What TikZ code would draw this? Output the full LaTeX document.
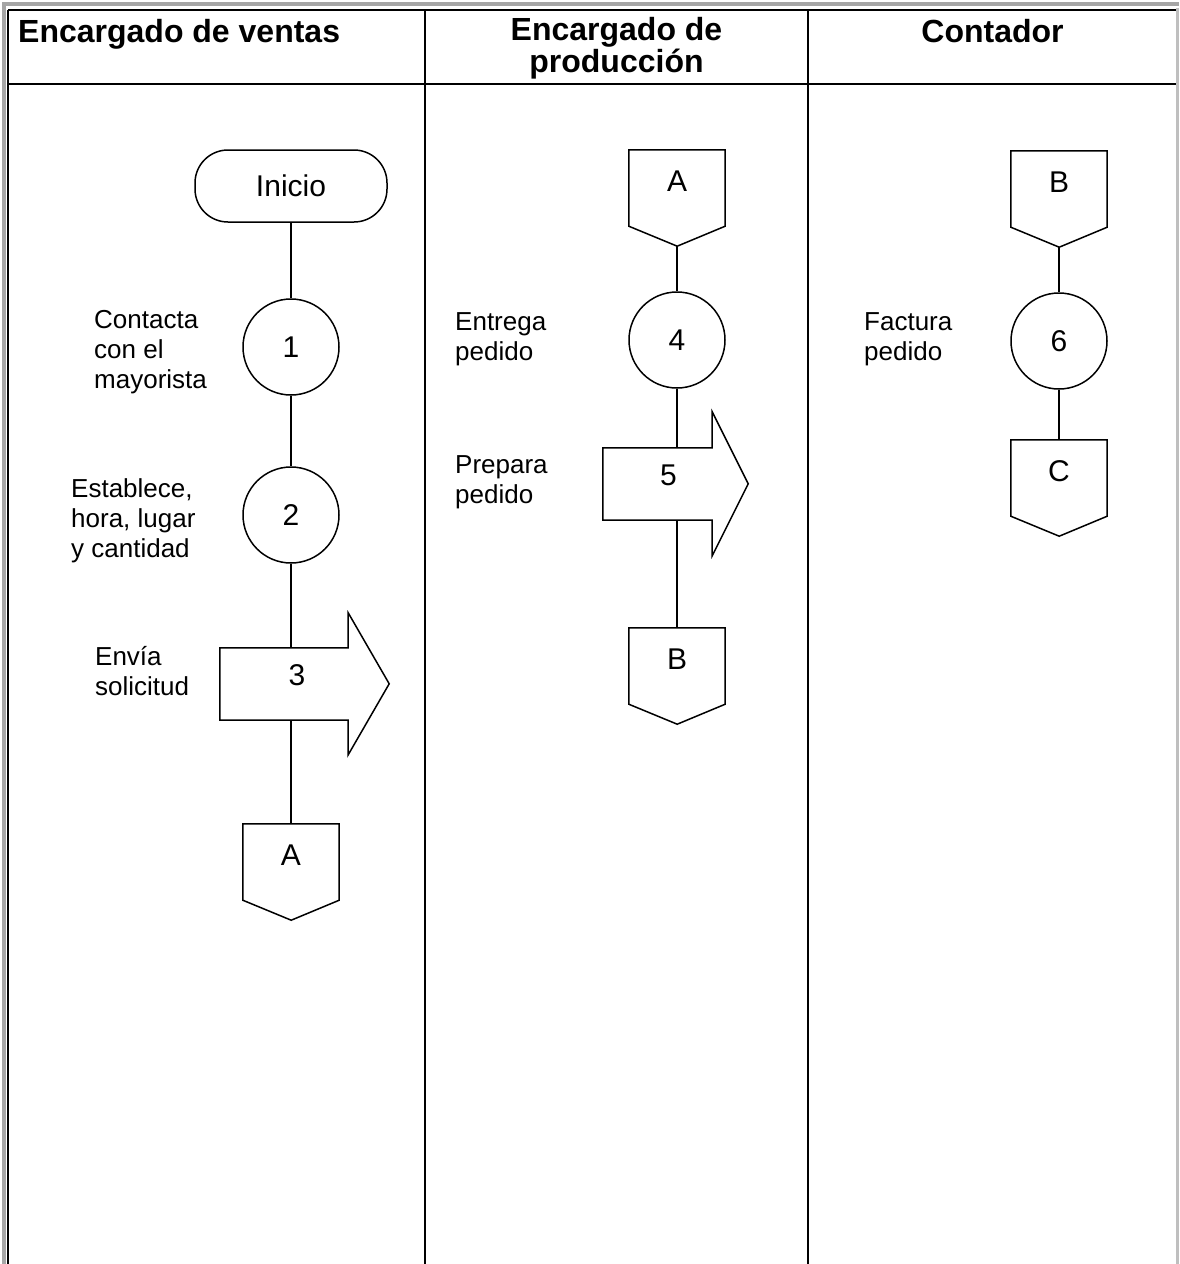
\documentclass[tikz,border=0pt]{standalone}
\usepackage{fontspec}
\setmainfont{Liberation Sans}
\usepackage{tikz}

\begin{document}
\begin{tikzpicture}[x=1pt,y=-1pt]
\tikzstyle{every node}=[inner sep=0pt]
\tikzstyle{linea}=[line width=1.5pt]
\tikzstyle{borde}=[line width=2.6pt]
\tikzstyle{titulo}=[font=\fontsize{32}{30}\selectfont\bfseries,anchor=base]
\tikzstyle{nota}=[font=\fontsize{26}{30}\selectfont,align=left,anchor=base west]
\tikzstyle{inicio}=[draw,linea,rectangle,rounded corners=33pt,minimum width=192pt,minimum height=72pt,font=\fontsize{30}{36}\selectfont]
\tikzstyle{paso}=[draw,linea,circle,minimum size=96pt,font=\fontsize{30}{36}\selectfont]
\tikzstyle{conector}=[rectangle,minimum width=96pt,minimum height=76pt,text depth=14pt,font=\fontsize{30}{36}\selectfont]
\tikzstyle{cuerpo}=[rectangle,minimum height=72pt]
\tikzstyle{num}=[font=\fontsize{30}{36}\selectfont]
\useasboundingbox (0,0) rectangle (1179,1264);

\fill[gray!70] (2,2) rectangle (1179,6);
\fill[gray!70] (2,2) rectangle (6,1264);
\fill[gray!50] (1176,8) rectangle (1179,1264);
\draw[borde] (8,10) -- (1176,10);
\draw[borde] (8,10) -- (8,1264);
\draw[borde] (8,84) -- (1176,84);
\draw[borde] (425,10) -- (425,1264);
\draw[borde] (808,10) -- (808,1264);

\node[titulo,anchor=base west](h1) at (18,42) {Encargado de ventas};
\node[titulo,align=center](h2) at (616.5,72) {Encargado de\\producción};
\node[titulo](h3) at (992.5,42) {Contador};

\node[inicio](ini) at (291,186) {Inicio};
\node[paso](c1) at (291,347) {1};
\node[paso](c2) at (291,515) {2};
\node[cuerpo,minimum width=128pt](a3) at (284,684) {};
\node[num](t3) at (297,675) {3};
\node[conector](oA) at (291,862) {A};
\node[nota](l1) at (94,388) {Contacta\\con el\\mayorista};
\node[nota](l2) at (71,557) {Establece,\\hora, lugar\\y cantidad};
\node[nota](l3) at (95,695) {Envía\\solicitud};

\node[conector](oA2) at (677,188) {A};
\node[paso](c4) at (677,340) {4};
\node[cuerpo,minimum width=109pt](a5) at (657.5,484) {};
\node[num](t5) at (668.5,475) {5};
\node[conector](oB2) at (677,666) {B};
\node[nota](l4) at (455,360) {Entrega\\pedido};
\node[nota](l5) at (455,503) {Prepara\\pedido};

\node[conector](oB3) at (1059,189) {B};
\node[paso](c6) at (1059,341) {6};
\node[conector](oC) at (1059,478) {C};
\node[nota](l6) at (864,360) {Factura\\pedido};

\draw[linea] (a3.north west) -- (a3.north east) -- ++(0,-35) -- ++(41,71) -- ++(-41,71) -- (a3.south east) -- (a3.south west) -- cycle;
\draw[linea] (a5.north west) -- (a5.north east) -- ++(0,-36) -- ++(36,72) -- ++(-36,72) -- (a5.south east) -- (a5.south west) -- cycle;
\draw[linea] (oA.north west) -- (oA.north east) -- (oA.south east) -- ++(-48,20) -- (oA.south west) -- cycle;
\draw[linea] (oA2.north west) -- (oA2.north east) -- (oA2.south east) -- ++(-48,20) -- (oA2.south west) -- cycle;
\draw[linea] (oB2.north west) -- (oB2.north east) -- (oB2.south east) -- ++(-48,20) -- (oB2.south west) -- cycle;
\draw[linea] (oB3.north west) -- (oB3.north east) -- (oB3.south east) -- ++(-48,20) -- (oB3.south west) -- cycle;
\draw[linea] (oC.north west) -- (oC.north east) -- (oC.south east) -- ++(-48,20) -- (oC.south west) -- cycle;

\draw[linea] (ini) -- (c1);
\draw[linea] (c1) -- (c2);
\draw[linea] (c2) -- (c2 |- a3.north);
\draw[linea] (c2 |- a3.south) -- (oA);
\draw[linea] ([yshift=-20pt]oA2.south) -- (c4);
\draw[linea] (c4) -- (c4 |- a5.north);
\draw[linea] (c4 |- a5.south) -- (oB2);
\draw[linea] ([yshift=-20pt]oB3.south) -- (c6);
\draw[linea] (c6) -- (oC);
\end{tikzpicture}
\end{document}
